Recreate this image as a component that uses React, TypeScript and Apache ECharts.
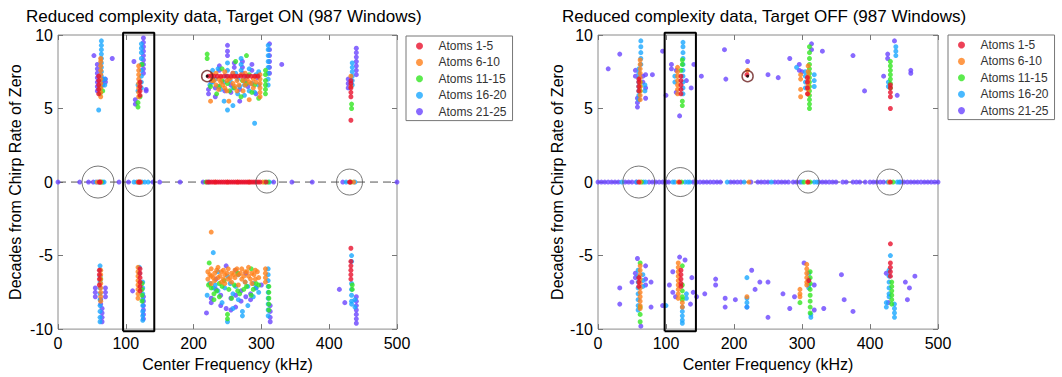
import React, { useEffect, useRef } from "react";
import * as echarts from "echarts";

type Col = [number, number[]];

const SERIES_NAMES = ["Atoms 1-5", "Atoms 6-10", "Atoms 11-15", "Atoms 16-20", "Atoms 21-25"];
const X_TICKS = [0, 100, 200, 300, 400, 500];
const Y_TICKS = [-10, -5, 0, 5, 10];
const TITLE_ON = "Reduced complexity data, Target ON (987 Windows)";
const TITLE_OFF = "Reduced complexity data, Target OFF (987 Windows)";
const X_NAME = "Center Frequency (kHz)";
const Y_NAME = "Decades from Chirp Rate of Zero";

// ---------- Target ON ----------
const ON_RED: Col[] = [
  [60, [6.0, 6.3, 6.6, 6.9, 7.2]], [121, [5.9, 6.2, 6.5, 6.8]], [432, [4.2, 5.8, 6.1, 6.4, 6.7, 6.9]],
  [61, [-6.0, -6.3, -6.6, -7.0]], [121, [-5.9, -6.2, -6.5, -6.8, -7.1, -7.4]], [432, [-4.5, -5.4, -5.7, -6.0, -6.3, -6.6]],
];
const ON_RED_LINE_X = [222, 226, 230, 235, 240, 245, 250, 255, 260, 265, 270, 275, 280, 285, 290, 295];
const ON_RED_ZERO = [61, 62, 119, 121, 220, 223, 226, 229, 232, 235, 238, 241, 244, 247, 250, 253, 256, 259, 262, 265, 268, 271, 274, 277, 280, 283, 286, 289, 292, 295, 298, 307, 430, 431];

const ON_ORANGE: Col[] = [
  [63, [5.8, 6.1, 6.4, 6.7, 7.0, 7.3, 7.6, 7.9, 8.2, 8.4]], [119, [5.8, 6.1, 6.4, 6.7, 7.0, 7.3, 7.6, 7.9]],
  [225, [5.5]], [227, [6.9, 7.3]], [233, [6.6, 7.4]], [240, [6.8, 7.1]], [246, [6.4, 7.5]], [252, [5.5, 7.0]],
  [258, [6.7, 7.4]], [264, [6.2, 6.9]], [270, [7.3]], [276, [6.6, 7.4]], [282, [5.6, 6.8]], [288, [6.4, 7.0]],
  [230, [6.9]], [237, [6.3, 7.0]], [243, [6.6]], [249, [6.2, 6.9]], [255, [7.1]], [261, [6.5, 7.2]], [267, [6.6]],
  [273, [6.2, 6.9]], [279, [7.0]], [285, [6.7]], [292, [6.8, 7.2]],
  [298, [5.8, 6.1, 6.4, 6.7, 7.0, 7.3]], [432, [6.5, 7.2]],
  [63, [-6.0, -6.3, -6.6, -6.9, -7.2, -7.5, -7.8, -8.1]], [118, [-5.8, -6.1, -6.4, -6.7, -7.0, -7.3, -7.6, -7.9]],
  [226, [-3.4, -5.9, -6.4, -6.9]], [221, [-6.1, -6.6]], [231, [-6.2, -6.7]], [236, [-5.8, -6.5]], [241, [-6.1, -6.8]],
  [246, [-6.3, -6.9]], [251, [-5.9, -6.6]], [256, [-6.2, -6.8]], [261, [-6.0, -6.5]], [266, [-6.3, -7.0]],
  [271, [-5.9, -6.6]], [276, [-6.1, -6.8]], [281, [-5.8, -6.4]], [286, [-6.2, -6.9]], [291, [-6.0, -6.6]],
  [224, [-6.3]], [229, [-6.5]], [234, [-6.0]], [239, [-6.4]], [244, [-6.0, -6.6]], [249, [-6.2]], [254, [-6.5]],
  [259, [-6.3]], [264, [-5.9]], [269, [-6.2]], [274, [-6.4]], [279, [-6.1]], [284, [-6.6]], [289, [-6.3]], [294, [-6.1]],
  [296, [-6.5]], [306, [-5.9, -6.2, -6.5, -6.8]],
];
const ON_ORANGE_ZERO = [58, 63, 118, 122, 232, 250, 265, 282, 302, 436];

const ON_GREEN: Col[] = [
  [62, [6.0, 6.4]], [66, [6.2]], [118, [5.1, 5.4]], [124, [8.0]], [121, [5.8]], [220, [8.4, 8.7]], [225, [6.5]],
  [234, [6.0]], [242, [6.9, 7.7]], [253, [6.2]], [262, [8.2]], [270, [5.8]], [278, [6.7, 8.6]], [286, [6.1]],
  [228, [7.0]], [238, [6.5]], [250, [6.7]], [260, [6.4]], [272, [6.9]], [282, [7.3]], [290, [6.6]],
  [296, [5.7]], [306, [6.0, 6.3, 6.6, 6.9, 7.3, 7.6]], [433, [5.0, 5.3]],
  [63, [-6.6]], [124, [-6.9, -7.3, -7.7, -8.1]], [222, [-7.0]], [223, [-5.5]], [230, [-7.6, -8.0]],
  [238, [-6.9, -7.8]], [245, [-6.7]], [250, [-9.0, -9.3]], [256, [-7.9]], [265, [-6.2, -7.4]], [274, [-7.3]],
  [226, [-7.2]], [234, [-7.4]], [242, [-7.1]], [252, [-7.3]], [260, [-7.0]], [268, [-7.6]], [278, [-7.1]],
  [288, [-7.3]], [296, [-7.0]],
  [285, [-5.9, -7.7]], [292, [-6.9]], [311, [-7.1, -7.5, -7.9, -8.3, -8.7]], [434, [-7.0, -7.3]],
];
const ON_GREEN_ZERO = [64, 120, 218, 305, 310, 432];

const ON_BLUE: Col[] = [
  [60, [4.9]], [64, [6.6, 6.9, 7.2, 7.5, 7.8, 8.1, 8.4, 8.7, 9.0, 9.3, 9.6]], [69, [6.6, 7.0]], [118, [6.2, 6.6]],
  [123, [6.4, 6.8, 7.2, 7.6, 8.0, 8.4, 8.8, 9.1, 9.4]], [228, [6.8, 7.6]], [236, [6.5, 7.7]], [245, [5.5, 6.8]],
  [250, [4.9, 7.6, 8.1]], [258, [5.2, 6.4]], [265, [6.0, 7.0]], [270, [7.6, 8.0, 8.4]], [275, [5.9, 6.6]],
  [224, [6.6]], [232, [7.0]], [240, [6.3]], [248, [7.2]], [254, [6.9]], [262, [7.4]], [268, [6.5]], [278, [7.2]],
  [286, [6.7]], [292, [7.3]],
  [282, [6.2, 7.7]], [290, [4.0, 6.1]], [296, [6.6, 7.5]], [310, [6.6, 7.0, 7.4, 7.8, 8.2, 8.6, 9.0, 9.3]],
  [434, [6.6, 6.9, 7.2, 7.5, 7.8, 8.1]],
  [62, [-5.7, -6.0, -6.4, -6.8, -7.2, -7.6, -8.0, -8.4, -8.8, -9.2, -9.5]], [120, [-5.8, -6.2]],
  [125, [-6.8, -7.2, -7.6, -8.0, -8.4, -8.8, -9.1, -9.4]], [220, [-7.7]], [229, [-4.8, -7.2]], [236, [-6.1, -7.4]],
  [242, [-8.2]], [250, [-6.4, -9.5]], [258, [-7.6, -8.6]], [266, [-6.3, -8.0]], [272, [-8.8, -9.1]],
  [224, [-6.9]], [232, [-7.0]], [246, [-7.2]], [254, [-6.9]], [262, [-7.1]], [276, [-6.8]], [292, [-7.2]],
  [280, [-7.1, -8.4]], [288, [-6.9, -7.8]], [296, [-7.5]], [310, [-5.9, -6.3, -6.7, -7.1, -7.5, -7.9, -8.3, -8.7, -9.1]],
  [433, [-5.0, -5.4, -6.9, -7.3, -7.7, -8.1, -8.3]], [438, [-8.0, -8.5]],
];
const ON_BLUE_ZERO = [56, 60, 66, 68, 112, 116, 124, 128, 133, 222, 312, 425, 438];

const ON_PURPLE: Col[] = [
  [53, [8.6]], [58, [6.2, 6.5, 6.8, 7.1, 7.4, 7.7, 8.0]], [66, [6.6, 6.9, 7.0]], [70, [6.8, 7.0]], [80, [8.4]],
  [112, [8.2]], [114, [5.3, 5.6]], [126, [7.4, 7.7, 8.0, 8.3, 8.6, 8.9, 9.2, 9.5, 9.8]], [130, [6.2, 6.3]],
  [222, [6.3, 6.0]], [232, [5.8, 6.4]], [238, [7.6, 7.9]], [250, [8.6, 8.9, 9.3]], [255, [6.1, 6.6]], [260, [7.8, 8.1]],
  [226, [6.8]], [246, [6.2]], [258, [7.4]], [276, [6.9]], [294, [7.1]],
  [268, [5.5, 6.3]], [272, [7.4, 7.8, 8.2]], [280, [6.5]], [286, [7.6, 8.0]], [292, [6.0]],
  [312, [7.4, 7.8, 8.2, 8.6, 9.0, 9.4]], [330, [8.0]], [428, [6.4, 6.7, 7.0]], [440, [7.3, 7.6, 7.9, 8.2, 8.5, 8.8, 9.1]],
  [55, [-7.2, -7.5, -7.8]], [63, [-8.0, -8.3]], [65, [-8.6, -8.9, -9.2, -9.5]], [70, [-7.2, -7.5, -7.8]], [110, [-7.4]],
  [126, [-7.8, -8.1, -8.4, -8.7, -9.0, -9.3]], [219, [-8.9]], [226, [-7.9, -8.2]], [233, [-6.6, -7.3]],
  [240, [-7.7, -8.4]], [248, [-5.7, -8.6]], [255, [-7.9, -8.7]], [262, [-6.0, -7.7, -8.5]], [270, [-7.4, -8.1]],
  [277, [-6.2, -7.8]], [284, [-7.6, -8.0]], [292, [-7.2]], [300, [-7.0]], [313, [-8.4, -8.8, -9.2, -9.5]],
  [415, [-7.3]], [423, [-8.2]], [440, [-7.8, -8.1, -8.4, -8.7, -9.0, -9.3, -9.6]],
];
const ON_PURPLE_ZERO = [0, 32, 45, 52, 90, 104, 140, 150, 180, 214, 318, 345, 375, 420, 500];

// ---------- Target OFF ----------
const OFF_RED: Col[] = [
  [60, [6.2, 6.5, 6.8, 7.0]], [122, [6.0, 6.3, 6.6, 6.9, 7.2]], [219, [7.3]], [308, [6.0, 6.4, 6.8, 7.1]],
  [430, [5.0, 5.8, 6.1, 6.4, 6.6]],
  [60, [-6.5, -6.8, -7.1]], [122, [-6.0, -6.3, -6.6, -6.9, -7.1]], [310, [-6.7]], [430, [-4.2, -5.5, -5.8, -6.1, -6.4]],
];
const OFF_RED_ZERO = [60, 120, 309, 430];

const OFF_ORANGE: Col[] = [
  [62, [5.6, 5.9, 6.2, 6.5, 6.8, 7.1, 7.4, 7.7, 8.0, 8.3]], [117, [6.0, 6.3, 6.6, 6.9, 7.2, 7.5, 7.8]], [220, [7.6]],
  [298, [5.8, 6.3, 7.0, 7.3]], [309, [6.0, 6.3, 6.6, 6.9, 7.2, 7.5, 7.9]],
  [62, [-5.7, -6.0, -6.3, -6.6, -6.9, -7.2, -7.5, -7.8, -8.1, -8.4, -8.6]],
  [118, [-5.5, -5.8, -6.1, -6.4, -6.7, -7.0, -7.3, -7.6, -7.9]], [124, [-8.2, -8.5]], [219, [-7.8]],
  [297, [-7.3, -7.6, -7.8]], [307, [-5.6, -5.9, -6.2, -6.5, -6.8, -7.0]],
];
const OFF_ORANGE_ZERO = [62, 118, 222, 308, 428];

const OFF_GREEN: Col[] = [
  [62, [6.2, 6.5, 6.8]], [124, [5.2, 5.5, 8.0, 8.3]], [122, [7.6]],
  [311, [5.0, 5.3, 5.6, 5.9, 6.2, 6.5, 6.8, 7.1, 7.4, 7.7, 8.0, 8.4, 8.8, 9.2]], [430, [6.4, 6.7, 7.0, 7.3, 7.6, 7.9, 8.2]],
  [62, [-5.5, -8.5, -9.0, -9.5]], [124, [-5.7, -7.0, -7.4, -7.8, -8.0]], [297, [-8.2]],
  [312, [-6.1, -6.5, -6.9, -7.3, -7.7, -8.1, -8.5, -8.9]], [432, [-6.8, -7.1, -7.4, -7.7, -8.0, -8.3]],
];
const OFF_GREEN_ZERO = [64, 123, 303, 312, 434];

const OFF_BLUE: Col[] = [
  [60, [5.6, 5.9, 6.2, 6.5, 6.8, 7.1, 7.4, 7.7]], [63, [8.0, 8.4, 8.8, 9.2, 9.6]], [69, [6.2, 6.6]],
  [125, [6.0, 6.4, 6.8, 7.2, 7.6, 8.0, 8.4, 8.8, 9.2, 9.5]], [113, [6.8, 7.2]], [305, [6.4, 6.8, 7.2, 7.5]],
  [318, [6.5, 6.9, 7.3]], [292, [7.8]], [438, [8.6, 8.9, 9.2]], [427, [6.5, 6.8]],
  [59, [-6.0, -6.4, -6.8, -7.2, -7.6, -8.0, -8.4, -8.7]], [66, [-6.3, -6.7, -7.1]], [100, [-8.4]],
  [124, [-8.5, -8.8, -9.1, -9.4, -9.6]], [130, [-7.6, -7.9]], [219, [-6.5, -7.9, -8.2, -8.5]],
  [310, [-6.2, -6.6, -7.0, -7.2]], [313, [-9.0, -9.2]], [428, [-6.0, -6.4, -6.8, -7.2, -7.6, -7.8]],
  [424, [-8.2, -8.5]], [436, [-8.3, -8.6, -8.9, -9.2]], [430, [-5.0]],
];
const OFF_BLUE_ZERO = [35, 57, 67, 70, 110, 113, 128, 132, 135, 190, 215, 255, 300, 318, 322, 426, 440, 443];

const OFF_PURPLE: Col[] = [
  [15, [7.7]], [32, [8.7]], [55, [7.2, 7.6]], [58, [5.1, 5.4, 5.7]], [66, [6.8, 7.2]], [70, [5.7, 6.4, 7.3]],
  [80, [7.3]], [95, [8.9]], [100, [5.9]], [108, [7.7, 8.0]], [115, [6.1, 7.6]], [130, [6.9]], [137, [6.4]],
  [141, [8.0]], [152, [7.2]], [120, [4.5]], [186, [9.0]], [188, [7.0]], [220, [8.2]], [250, [7.3]], [265, [7.1]],
  [282, [8.4]], [296, [7.6, 8.0]], [300, [7.5]], [314, [9.0, 9.4]], [330, [8.9]], [375, [8.6]], [392, [6.2]],
  [420, [7.2]], [426, [8.4, 8.7]], [436, [9.6]], [440, [5.9]], [460, [7.4, 7.6]],
  [32, [-7.2, -8.3]], [50, [-6.8]], [58, [-5.2]], [55, [-6.2, -6.5]], [70, [-5.7, -6.6, -7.0]], [78, [-6.8, -8.5]],
  [95, [-8.4]], [63, [-9.8]], [105, [-7.0]], [110, [-6.1, -7.5]], [114, [-7.8]], [120, [-5.1]], [128, [-5.3]],
  [138, [-6.5]], [140, [-7.5]], [145, [-7.8]], [136, [-8.3]], [157, [-7.6]], [173, [-6.6, -7.0]],
  [187, [-7.9, -8.5]], [202, [-8.0]], [219, [-8.5]], [226, [-6.0]], [231, [-7.3]], [238, [-6.8]],
  [250, [-6.8, -9.2]], [272, [-7.6]], [282, [-8.6]], [289, [-7.8]], [303, [-5.5]], [318, [-7.0, -8.7]],
  [332, [-8.6]], [358, [-6.3]], [362, [-8.0]], [375, [-8.8]], [424, [-6.2]], [427, [-8.2]], [452, [-6.8]],
  [455, [-8.0]], [458, [-7.2]], [466, [-6.4]],
];
const OFF_PURPLE_ZERO = [0, 5, 10, 15, 20, 25, 30, 40, 45, 50, 56, 75, 80, 85, 90, 95, 100, 104, 140, 145, 150, 155, 160, 165, 170, 175, 180, 195, 200, 205, 210, 225, 235, 240, 245, 250, 260, 265, 270, 275, 280, 287, 292, 297, 325, 330, 335, 340, 345, 350, 360, 365, 375, 380, 385, 393, 400, 405, 410, 415, 420, 445, 450, 455, 460, 465, 470, 475, 480, 485, 490, 495, 500];

// annotation circles: [x, y, diameter]
const ON_RINGS = [[59, 0, 32], [120, 0, 29], [308, 0, 22], [430, 0, 26]];
const OFF_RINGS = [[60, 0, 32], [121, 0, 29], [309, 0, 22], [429, 0, 26]];
const SMALL_RING = [220, 7.2];
const ON_BOX = [96, 142];
const OFF_BOX = [98, 144];

const COLORS = ["#e8112d", "#ff7f1a", "#33e622", "#1aa8ff", "#6a45ff"];
const FONT = "Liberation Sans, Arial, sans-serif";

function pts(cols: Col[]): number[][] {
  return cols.flatMap(([x, ys]) => ys.map((y) => [x, y]));
}
function zeros(xs: number[]): number[][] {
  return xs.map((x) => [x, 0]);
}

export default function App() {
  const ref = useRef<HTMLDivElement>(null);
  useEffect(() => {
    if (!ref.current) return;
    const chart = echarts.init(ref.current, undefined, { renderer: "svg" });

    const panels = [
      {
        data: [
          [...pts(ON_RED), ...zeros(ON_RED_ZERO), ...ON_RED_LINE_X.map((x) => [x, 7.2])],
          [...pts(ON_ORANGE), ...zeros(ON_ORANGE_ZERO)],
          [...pts(ON_GREEN), ...zeros(ON_GREEN_ZERO)],
          [...pts(ON_BLUE), ...zeros(ON_BLUE_ZERO)],
          [...pts(ON_PURPLE), ...zeros(ON_PURPLE_ZERO)],
        ],
        rings: ON_RINGS,
        box: ON_BOX,
      },
      {
        data: [
          [...pts(OFF_RED), ...zeros(OFF_RED_ZERO)],
          [...pts(OFF_ORANGE), ...zeros(OFF_ORANGE_ZERO)],
          [...pts(OFF_GREEN), ...zeros(OFF_GREEN_ZERO)],
          [...pts(OFF_BLUE), ...zeros(OFF_BLUE_ZERO)],
          [...pts(OFF_PURPLE), ...zeros(OFF_PURPLE_ZERO)],
        ],
        rings: OFF_RINGS,
        box: OFF_BOX,
      },
    ];

    const grids = [
      { left: 58, top: 35, width: 339, height: 299 },
      { left: 598, top: 35, width: 340, height: 299 },
    ];
    const yNameGaps = [35, 33];

    const tick = { show: true, inside: true, length: 5, lineStyle: { color: "#777" } };
    const line = { show: false, onZero: false };
    const xAxes: any[] = [];
    const yAxes: any[] = [];
    [0, 1].forEach((i) => {
      xAxes.push({
        type: "value", gridIndex: i, position: "bottom", min: X_TICKS[0], max: X_TICKS[X_TICKS.length - 1], interval: 100,
        axisLine: line, axisTick: tick, splitLine: { show: false },
        axisLabel: { fontSize: 16, color: "#000", fontFamily: FONT, margin: 6 },
        name: X_NAME, nameLocation: "middle", nameGap: 25,
        nameTextStyle: { fontSize: 16, color: "#000", fontFamily: FONT },
      });
      yAxes.push({
        type: "value", gridIndex: i, position: "left", min: Y_TICKS[0], max: Y_TICKS[Y_TICKS.length - 1], interval: 5,
        axisLine: line, axisTick: tick, splitLine: { show: false },
        axisLabel: { fontSize: 16, color: "#000", fontFamily: FONT, margin: 5 },
        name: Y_NAME, nameLocation: "middle", nameGap: yNameGaps[i],
        nameTextStyle: { fontSize: 16, color: "#000", fontFamily: FONT },
      });
    });
    [0, 1].forEach((i) => {
      xAxes.push({
        type: "value", gridIndex: i, position: "top", min: 0, max: 500, interval: 100,
        axisLine: line, axisTick: tick, splitLine: { show: false }, axisLabel: { show: false },
      });
      yAxes.push({
        type: "value", gridIndex: i, position: "right", min: -10, max: 10, interval: 5,
        axisLine: line, axisTick: tick, splitLine: { show: false }, axisLabel: { show: false },
      });
    });

    const series: any[] = [];
    panels.forEach((p, i) => {
      series.push({
        type: "line", xAxisIndex: i, yAxisIndex: i, data: [[0, 0], [500, 0]], symbol: "none", silent: true,
        lineStyle: { color: "#555", width: 1, type: [8, 5] }, z: 1,
      });
      // drawn purple first so red is on top
      for (let k = 4; k >= 0; k--) {
        series.push({
          type: "scatter", name: SERIES_NAMES[k], xAxisIndex: i, yAxisIndex: i, data: p.data[k],
          symbol: "circle", symbolSize: 5, itemStyle: { color: COLORS[k] }, z: 2, silent: true,
        });
      }
      series.push({
        type: "scatter", xAxisIndex: i, yAxisIndex: i, silent: true, z: 3,
        data: p.rings.map((r) => ({ value: [r[0], r[1]], symbolSize: r[2] })),
        itemStyle: { color: "rgba(0,0,0,0)", borderColor: "#555", borderWidth: 1 },
      });
      series.push({
        type: "scatter", xAxisIndex: i, yAxisIndex: i, silent: true, z: 3,
        data: [SMALL_RING], symbolSize: 11,
        itemStyle: { color: "rgba(0,0,0,0)", borderColor: "#6b1f1f", borderWidth: 1.5 },
      });
      series.push({
        type: "scatter", xAxisIndex: i, yAxisIndex: i, silent: true, z: 3,
        data: [SMALL_RING], symbolSize: 3, itemStyle: { color: "#000" },
      });
      const [b0, b1] = p.box;
      series.push({
        type: "line", xAxisIndex: i, yAxisIndex: i, silent: true, z: 4, clip: false, symbol: "none",
        data: [[b0, -10.15], [b0, 10.15], [b1, 10.15], [b1, -10.15], [b0, -10.15]],
        lineStyle: { color: "#000", width: 2 },
      });
    });

    const legendBase = {
      orient: "vertical", data: SERIES_NAMES, icon: "circle", itemWidth: 28, itemHeight: 7, itemGap: 2.4,
      borderColor: "#777", borderWidth: 1, padding: [3, 6, 2, 10],
      textStyle: { fontSize: 12, color: "#333", fontFamily: FONT, lineHeight: 14 },
    };
    const titleStyle = { fontSize: 17, fontWeight: "normal", color: "#000", fontFamily: FONT };

    chart.setOption({
      animation: false,
      backgroundColor: "#fff",
      title: [
        { text: TITLE_ON, left: 26, top: 8, padding: 0, textStyle: titleStyle },
        { text: TITLE_OFF, left: 562, top: 8, padding: 0, textStyle: titleStyle },
      ],
      legend: [
        { ...legendBase, left: 406, top: 36 },
        { ...legendBase, left: 948, top: 35 },
      ],
      grid: grids.map((g) => ({ ...g, show: true, borderColor: "#8a8a8a", borderWidth: 1, backgroundColor: "transparent" })),
      xAxis: xAxes,
      yAxis: yAxes,
      series,
    });
    return () => chart.dispose();
  }, []);

  return <div ref={ref} style={{ position: "absolute", left: 0, top: 0, width: 1062, height: 377 }} />;
}
